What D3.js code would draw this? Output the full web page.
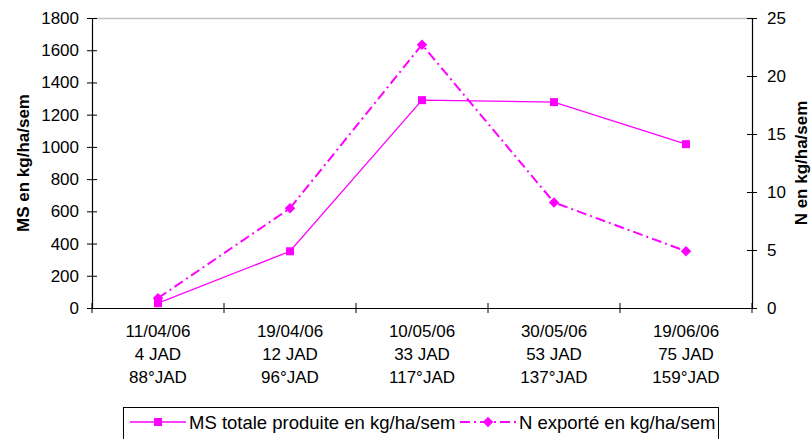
<!DOCTYPE html>
<html lang="fr">
<head>
<meta charset="UTF-8">
<title>MS et N exporté</title>
<script src="https://d3js.org/d3.v7.js"></script>
<style>
  body { margin: 0; background: #fff; }
  text { font-family: "Liberation Sans", Arial, sans-serif; fill: #000; }
</style>
</head>
<body>
<div id="chart"></div>
<script>
// data
const dates = ["11/04/06", "19/04/06", "10/05/06", "30/05/06", "19/06/06"];
const jad = ["4 JAD", "12 JAD", "33 JAD", "53 JAD", "75 JAD"];
const degJad = ["88°JAD", "96°JAD", "117°JAD", "137°JAD", "159°JAD"];
const msValues = [30, 352, 1290, 1278, 1017];
const nValues = [0.85, 8.6, 22.7, 9.1, 4.9];
const leftTicks = [0, 200, 400, 600, 800, 1000, 1200, 1400, 1600, 1800];
const rightTicks = [0, 5, 10, 15, 20, 25];

const W = 812, H = 439;
const margin = { top: 18, right: 60, bottom: 131, left: 92 };
const width = W - margin.left - margin.right;
const height = H - margin.top - margin.bottom;
const pink = "#ff00ff";

const svg = d3.select("#chart").append("svg")
  .attr("width", W).attr("height", H);
const g = svg.append("g")
  .attr("transform", `translate(${margin.left},${margin.top})`);

const x = d3.scaleBand().domain(dates).range([0, width]);
const yL = d3.scaleLinear().domain([0, 1800]).range([height, 0]);
const yR = d3.scaleLinear().domain([0, 25]).range([height, 0]);

// top border of plot area
g.append("line")
  .attr("x1", 0).attr("x2", width).attr("y1", 0.5).attr("y2", 0.5)
  .attr("stroke", "#c0c0c0").attr("stroke-width", 1.5);

// left axis
const ax = g.append("g")
  .call(d3.axisLeft(yL).tickValues(leftTicks).tickFormat(d3.format("d")).tickSize(10).tickSizeOuter(0));
ax.selectAll("line").attr("transform", "translate(5,0)");
ax.selectAll("text").attr("x", -13).style("font-size", "17px");

// right axis
const ar = g.append("g").attr("transform", `translate(${width},0)`)
  .call(d3.axisRight(yR).tickValues(rightTicks).tickSize(10).tickSizeOuter(0));
ar.selectAll("line").attr("transform", "translate(-5,0)");
ar.selectAll("text").attr("x", 15).style("font-size", "17px");

// bottom axis with ticks between categories
const ab = g.append("g").attr("transform", `translate(0,${height})`)
  .call(d3.axisBottom(x).tickSize(0).tickSizeOuter(0).tickFormat(""));
const bounds = d3.range(dates.length + 1).map(i => i * x.step());
ab.selectAll(".sep").data(bounds).enter().append("line")
  .attr("x1", d => d).attr("x2", d => d).attr("y1", -5).attr("y2", 5)
  .attr("stroke", "#000");

svg.selectAll(".domain").attr("stroke", "#000").attr("stroke-width", 1.2);
svg.selectAll(".tick line").attr("stroke", "#000");

// category labels on three lines
const labs = g.append("g").attr("transform", `translate(0,${height})`);
dates.forEach((d, i) => {
  const cx = x(d) + x.bandwidth() / 2;
  const t = labs.append("text").attr("text-anchor", "middle")
    .style("font-size", "17px");
  [d, jad[i], degJad[i]].forEach((s, k) => {
    t.append("tspan").attr("x", cx).attr("y", 29 + k * 23).text(s);
  });
});

// axis titles
svg.append("text")
  .attr("transform", `translate(29,${margin.top + height / 2}) rotate(-90)`)
  .attr("text-anchor", "middle").style("font-size", "17px").style("font-weight", "bold")
  .text("MS en kg/ha/sem");
svg.append("text")
  .attr("transform", `translate(807,${margin.top + height / 2}) rotate(-90)`)
  .attr("text-anchor", "middle").style("font-size", "17px").style("font-weight", "bold")
  .text("N en kg/ha/sem");

const cxOf = i => x(dates[i]) + x.bandwidth() / 2;

// N series (dash-dot, diamonds)
g.append("path").datum(nValues)
  .attr("fill", "none").attr("stroke", pink).attr("stroke-width", 2)
  .attr("stroke-dasharray", "10,4,2,4")
  .attr("d", d3.line().x((d, i) => cxOf(i)).y(d => yR(d)));
g.selectAll(".nmark").data(nValues).enter().append("path")
  .attr("transform", (d, i) => `translate(${cxOf(i)},${yR(d)})`)
  .attr("d", d3.symbol(d3.symbolDiamond2, 70))
  .attr("fill", pink);

// MS series (solid, squares)
g.append("path").datum(msValues)
  .attr("fill", "none").attr("stroke", pink).attr("stroke-width", 1.3)
  .attr("d", d3.line().x((d, i) => cxOf(i)).y(d => yL(d)));
g.selectAll(".msmark").data(msValues).enter().append("rect")
  .attr("x", (d, i) => cxOf(i) - 4).attr("y", d => yL(d) - 4)
  .attr("width", 8).attr("height", 8).attr("fill", pink);

// legend
const lg = svg.append("g");
lg.append("rect").attr("x", 123.5).attr("y", 407.5).attr("width", 595).attr("height", 40)
  .attr("fill", "#fff").attr("stroke", "#000");
lg.append("line").attr("x1", 130).attr("x2", 186).attr("y1", 422).attr("y2", 422)
  .attr("stroke", pink).attr("stroke-width", 1.3);
lg.append("rect").attr("x", 154).attr("y", 418).attr("width", 8).attr("height", 8).attr("fill", pink);
lg.append("text").attr("x", 189).attr("y", 429).style("font-size", "18.5px")
  .text("MS totale produite en kg/ha/sem");
lg.append("line").attr("x1", 460).attr("x2", 517).attr("y1", 422).attr("y2", 422)
  .attr("stroke", pink).attr("stroke-width", 2).attr("stroke-dasharray", "10,4,2,4");
lg.append("path").attr("transform", "translate(488,422)")
  .attr("d", d3.symbol(d3.symbolDiamond2, 70)).attr("fill", pink);
lg.append("text").attr("x", 519).attr("y", 429).style("font-size", "18.5px")
  .text("N exporté en kg/ha/sem");
</script>
</body>
</html>
